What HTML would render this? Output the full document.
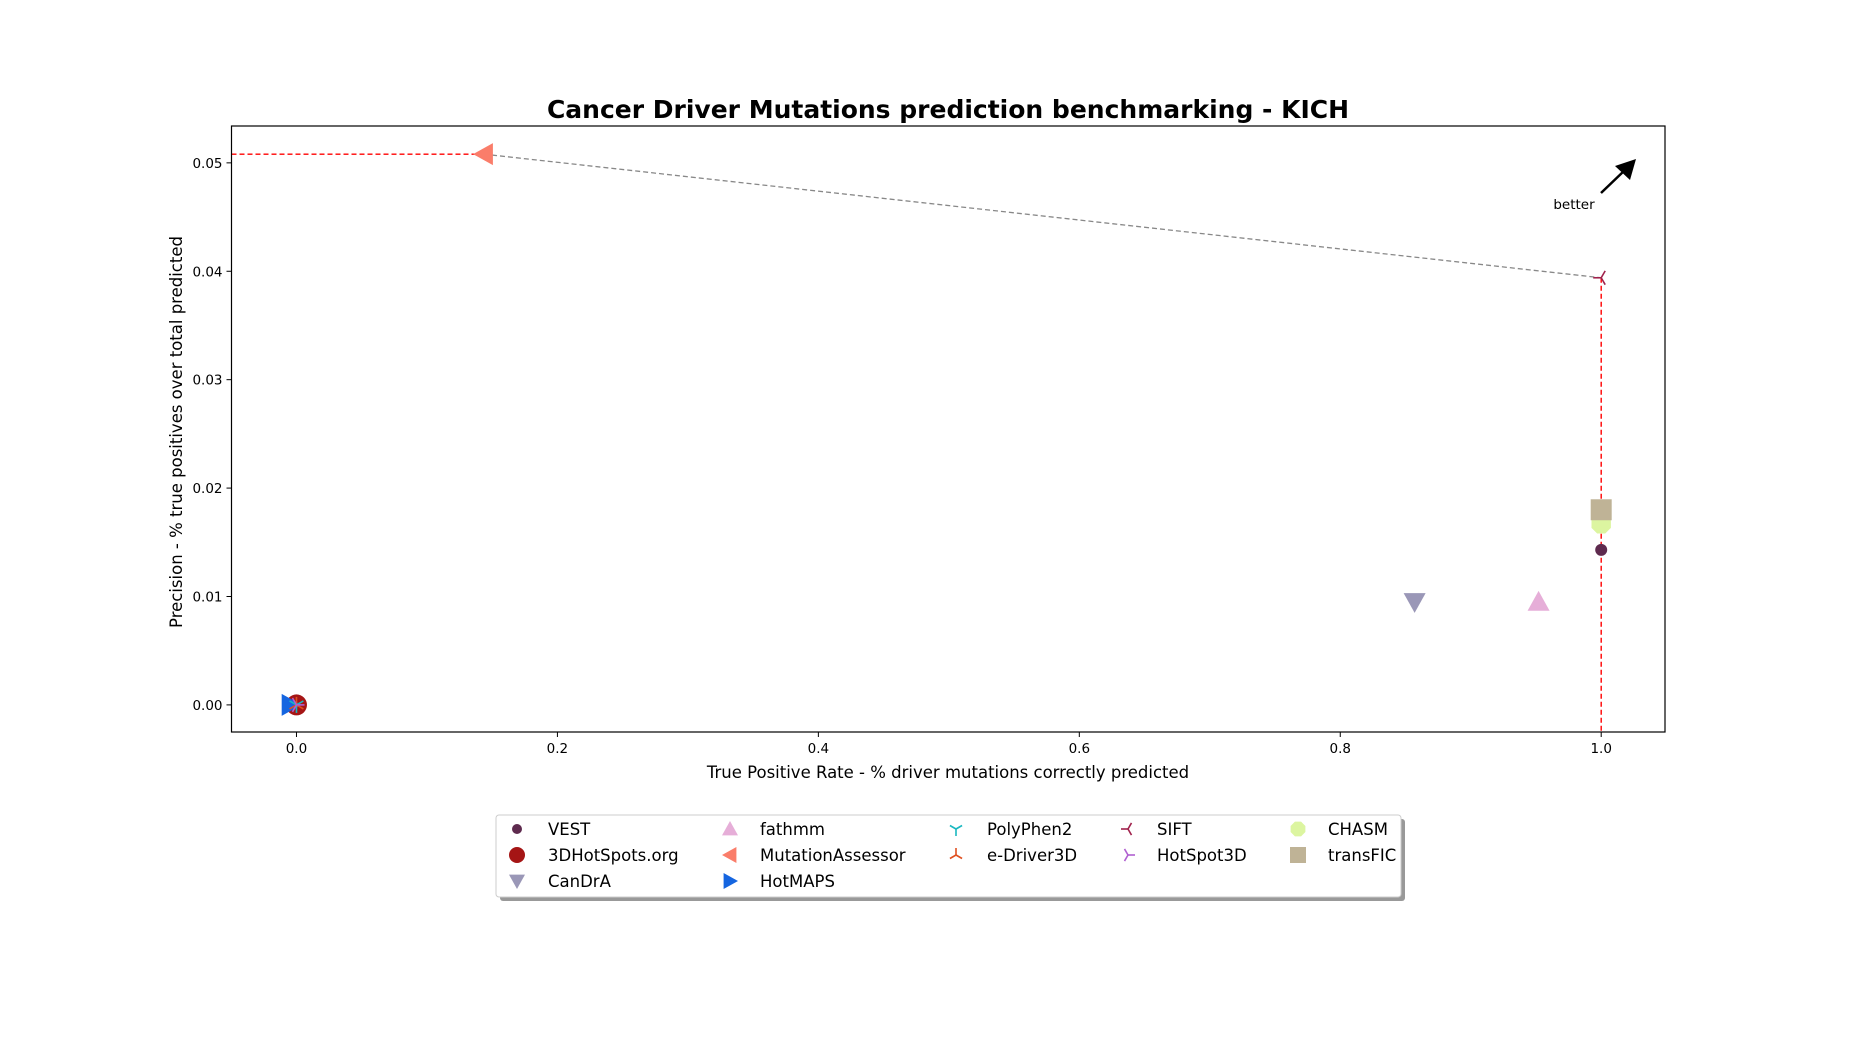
<!DOCTYPE html>
<html><head><meta charset="utf-8"><style>
html,body{margin:0;padding:0;background:#fff;}
svg{display:block;font-family:"DejaVu Sans","Liberation Sans",sans-serif;}
</style></head><body>
<svg id="chart" width="1850" height="1050" viewBox="0 0 1850 1050" xmlns="http://www.w3.org/2000/svg">
<text x="948" y="118" text-anchor="middle" font-size="25" font-weight="bold">Cancer Driver Mutations prediction benchmarking - KICH</text>
<g id="plot"></g>
</svg>
<script>
const tools = ["VEST","3DHotSpots.org","CanDrA","fathmm","MutationAssessor","HotMAPS","PolyPhen2","e-Driver3D","SIFT","HotSpot3D","CHASM","transFIC"];
const tprValues = [1.0,0.0,0.857,0.952,0.1438,0.0,0.0,0.0,1.0,0.0,1.0,1.0];
const precisionValues = [0.0143,0.0,0.0095,0.0095,0.0508,0.0,0.0,0.0,0.0394,0.0,0.0167,0.018];
const xTicks = [0.0,0.2,0.4,0.6,0.8,1.0];
const yTicks = [0.00,0.01,0.02,0.03,0.04,0.05];
const paretoTools = ["MutationAssessor","SIFT"];

const styles = {
 "VEST":{m:"circle",c:"#5e2a4e",s:6,d:0},
 "3DHotSpots.org":{m:"circle",c:"#a51515",s:10.5,d:0},
 "CanDrA":{m:"tdown",c:"#9a97b7",s:11,d:0},
 "fathmm":{m:"tup",c:"#e6aed8",s:11,d:0},
 "MutationAssessor":{m:"tleft",c:"#fa7d6a",s:11,d:0},
 "HotMAPS":{m:"tright",c:"#1565e0",s:11,d:-6},
 "PolyPhen2":{m:"y_down",c:"#1ab8c0",s:8,d:0},
 "e-Driver3D":{m:"y_up",c:"#e05020",s:8,d:0},
 "SIFT":{m:"y_left",c:"#a0224c",s:8,d:0},
 "HotSpot3D":{m:"y_right",c:"#b060d0",s:8,d:0},
 "CHASM":{m:"octagon",c:"#dcf5a0",s:10.5,d:0},
 "transFIC":{m:"square",c:"#bfb396",s:10.5,d:0}
};
const L=231.5,R=1665,T=126,B=732;
const xmin=-0.0498,xmax=1.0489,ymin=-0.0025,ymax=0.0534;
const X=v=>L+(v-xmin)/(xmax-xmin)*(R-L);
const Y=v=>B-(v-ymin)/(ymax-ymin)*(B-T);
const NS="http://www.w3.org/2000/svg";
const plot=document.getElementById('plot');
function mk(tag,attrs,parent){const e=document.createElementNS(NS,tag);for(const k in attrs)e.setAttribute(k,attrs[k]);(parent||plot).appendChild(e);return e;}
function marker(st,cx,cy,parent){
 const s=st.s,c=st.c;let e;
 const poly=pts=>mk('polygon',{points:pts.map(p=>(cx+p[0])+','+(cy+p[1])).join(' '),fill:c},parent);
 if(st.m==="circle")e=mk('circle',{cx,cy,r:s,fill:c},parent);
 else if(st.m==="square")e=mk('rect',{x:cx-s,y:cy-s,width:2*s,height:2*s,fill:c},parent);
 else if(st.m==="octagon"){const p=[];for(let i=0;i<8;i++){const a=Math.PI/8+i*Math.PI/4;p.push([s*Math.cos(a),s*Math.sin(a)]);}e=poly(p);}
 else if(st.m==="tup")e=poly([[0,-s],[-s,s*0.8],[s,s*0.8]]);
 else if(st.m==="tdown")e=poly([[0,s],[-s,-s*0.8],[s,-s*0.8]]);
 else if(st.m==="tleft")e=poly([[-s,0],[s*0.8,-s],[s*0.8,s]]);
 else if(st.m==="tright")e=poly([[s,0],[-s*0.8,-s],[-s*0.8,s]]);
 else{
  const base={y_down:90,y_up:-90,y_left:180,y_right:0}[st.m];
  e=mk('g',{},parent);
  for(const a of [base,base+120,base+240]){const r=a*Math.PI/180;mk('line',{x1:cx,y1:cy,x2:cx+s*Math.cos(r),y2:cy+s*Math.sin(r),stroke:c,'stroke-width':1.6},e);}
 }
 return e;
}
// ticks
xTicks.forEach(v=>{
 const x=X(v);
 const t=mk('line',{x1:x,y1:B,x2:x,y2:B+5,stroke:'#000','stroke-width':1});
 
 
 const l=mk('text',{x:x,y:B+21,'text-anchor':'middle','font-size':13.5});l.textContent=v.toFixed(1);
 
 
});
yTicks.forEach(v=>{
 const y=Y(v);
 const t=mk('line',{x1:L,y1:y,x2:L-5,y2:y,stroke:'#000','stroke-width':1});
 
 
 const l=mk('text',{x:L-9,y:y+5,'text-anchor':'end','font-size':13.5});l.textContent=v.toFixed(2);
 
 
});
// pareto lines
const pi=paretoTools.map(n=>tools.indexOf(n));
const pts=pi.map(i=>[X(tprValues[i]),Y(precisionValues[i])]);
const gl=mk('polyline',{points:pts.map(p=>p.join(',')).join(' '),fill:'none',stroke:'#888','stroke-width':1.3,'stroke-dasharray':'5,3'});


const hl=mk('line',{x1:L,y1:pts[0][1],x2:pts[0][0],y2:pts[0][1],stroke:'#f00','stroke-width':1.4,'stroke-dasharray':'5,3'});


const last=pts[pts.length-1];
const vl=mk('line',{x1:last[0],y1:last[1],x2:last[0],y2:B,stroke:'#f00','stroke-width':1.4,'stroke-dasharray':'5,3'});


// points
tools.forEach((n,i)=>{
 const st=styles[n];
 const e=marker(st,X(tprValues[i])+st.d,Y(precisionValues[i]));
 
 
});
// frame
const fr=mk('rect',{x:L,y:T,width:R-L,height:B-T,fill:'none',stroke:'#000','stroke-width':1.2});


// better arrow
const bt=mk('text',{x:1574,y:209,'text-anchor':'middle','font-size':13.5});bt.textContent='better';


const ag=mk('g',{});


mk('line',{x1:1601,y1:193,x2:1625,y2:170,stroke:'#000','stroke-width':2.5},ag);
mk('polygon',{points:'1636,159 1630,180 1615,166',fill:'#000'},ag);
// axis labels
const xl=mk('text',{x:948,y:778,'text-anchor':'middle','font-size':16.5});xl.textContent='True Positive Rate - % driver mutations correctly predicted';


const yl=mk('text',{x:0,y:0,'text-anchor':'middle','font-size':16.5,transform:'translate(182,432) rotate(-90)'});yl.textContent='Precision - % true positives over total predicted';


// legend
const lg=mk('g',{});


mk('rect',{x:500,y:819,width:905,height:82,rx:3,fill:'#999'},lg);
mk('rect',{x:496,y:815,width:905,height:82,rx:3,fill:'#fff',stroke:'#ccc','stroke-width':1},lg);
const colMX=[517,730,956,1128,1298],colTX=[548,760,987,1157,1328],rowY=[829,855,881];
const order=[[0,1,2],[3,4,5],[6,7],[8,9],[10,11]];
order.forEach((col,ci)=>col.forEach((ti,ri)=>{
 const g=mk('g',{},lg);
 
 
 const st=Object.assign({},styles[tools[ti]]);
 st.s=tools[ti]==="VEST"?5:(st.m.startsWith('y_')?7:8);
 marker(st,colMX[ci],rowY[ri],g);
 const t=mk('text',{x:colTX[ci],y:rowY[ri]+6,'font-size':16.5},g);t.textContent=tools[ti];
}));
</script>
</body></html>
